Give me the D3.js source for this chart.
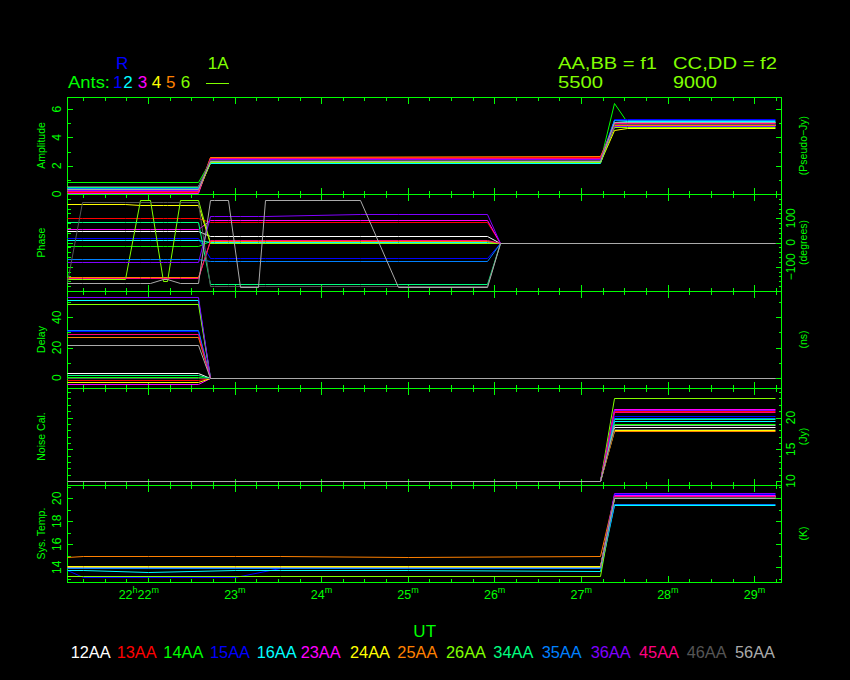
<!DOCTYPE html>
<html><head><meta charset="utf-8">
<script src="https://cdn.jsdelivr.net/npm/d3@7"></script>
<style>body{margin:0;background:#000}svg{display:block}text{font-family:"Liberation Sans",Arial,sans-serif}</style>
</head><body>
<svg id="c" width="850" height="680"></svg>
<script>
// ---------------- data ----------------
const baselines = ["12AA","13AA","14AA","15AA","16AA","23AA","24AA","25AA","26AA","34AA","35AA","36AA","45AA","46AA","56AA"];
const baseColors = ["#ffffff","#ff0000","#00ff00","#0000ff","#00ffff","#ff00ff","#ffff00","#ff8000","#80ff00","#00ff80","#0080ff","#8000ff","#ff0080","#555555","#aaaaaa"];
const antLabels = ["1","2","3","4","5","6"];
const antColors = ["#0000ff","#00ffff","#ff00ff","#ffff00","#ff8000","#80ff00"];
const xTickMinutes = [22,23,24,25,26,27,28,29];
const xTickLabels = ["22h22m","23m","24m","25m","26m","27m","28m","29m"];

// time knots (minutes after 22h)
const ampTimes = [21.07, 22.58, 22.72, 27.22, 27.38, 27.53, 29.24];
const ampValues = [
  [0.55,0.55,2.30,2.30,4.90,4.90,4.90],
  [0.15,0.15,2.60,2.62,5.00,5.00,5.00],
  [0.85,0.82,2.35,2.35,6.40,5.10,5.10],
  [0.30,0.30,2.40,2.40,5.27,5.27,5.27],
  [0.45,0.45,2.17,2.17,5.20,5.18,5.18],
  [0.08,0.08,2.45,2.45,4.95,4.95,4.95],
  [0.22,0.22,2.28,2.28,4.50,4.68,4.68],
  [0.35,0.35,2.62,2.66,4.85,4.85,4.85],
  [0.30,0.30,2.25,2.25,4.75,4.75,4.75],
  [0.50,0.50,2.30,2.30,5.05,5.05,5.05],
  [0.40,0.40,2.45,2.45,5.20,5.20,5.20],
  [0.25,0.25,2.50,2.50,4.80,4.80,4.80],
  [0.20,0.20,2.55,2.55,5.00,5.00,5.00],
  [0.60,0.60,2.40,2.40,4.95,4.95,4.95],
  [0.35,0.35,2.35,2.35,5.10,5.10,5.10]
];

const phaseTimes = [21.07,21.24,21.73,21.91,22.02,22.17,22.22,22.37,22.58,22.72,22.76,22.92,23.06,23.27,23.35,24.45,24.89,25.91,26.06,29.24];
const phaseValues = [
  [47,47,47,47,47,47,47,47,47,25,25,25,25,25,25,25,25,25,0,0],
  [100,100,100,100,100,99,99,99,99,85,85,85,85,85,85,85,85,85,0,0],
  [-13,-13,-13,-13,-13,-15,-15,-15,-15,5,5,5,5,5,5,5,5,5,0,0],
  [17,17,17,17,17,17,17,17,17,-64,-64,-64,-64,-64,-64,-64,-64,-64,0,0],
  [12,12,12,12,12,12,12,12,12,3,3,3,3,3,3,3,3,3,0,0],
  [54,54,54,54,54,54,54,54,54,93,93,93,93,93,93,93,93,93,0,0],
  [159,159,159,155,155,155,155,155,155,0,0,0,0,0,0,0,0,0,0,0],
  [-141,-141,-141,-141,-141,-141,-141,-141,-141,8,8,8,8,8,8,8,8,8,0,0],
  [-150,-150,-150,175,175,-160,-160,175,175,-3,-3,-3,-3,-3,-3,-3,-3,-3,0,0],
  [83,83,83,83,83,83,83,83,83,-170,-170,-170,-170,-170,-170,-170,-170,-170,0,0],
  [-68,-68,-68,-68,-68,-68,-68,-68,-68,-75,-75,-75,-75,-75,-75,-75,-75,-75,0,0],
  [-82,-82,-82,-82,-82,-82,-82,-82,-82,110,110,110,110,110,110,117,117,117,0,0],
  [-148,-148,-148,-148,-148,-148,-148,-148,-148,12,12,12,12,12,12,12,12,12,0,0],
  [-162,168,168,168,168,168,168,168,168,-178,-178,-178,-178,-178,-178,-178,-178,-178,0,0],
  [-166,-166,-166,-166,-166,-150,-150,-166,-166,175,175,175,-183,-183,175,175,-183,-183,0,0]
];

const delayTimes = [21.07, 22.58, 22.72, 29.24];
const delayValues = [
  [2.9,2.9,0,0],[-1.7,-1.7,0,0],[0.7,0.7,0,0],[30.8,30.8,0,0],[51.6,51.6,0,0],
  [-4.3,-4.3,0,0],[-3.0,-3.0,0,0],[27.1,27.1,0,0],[48.8,48.8,0,0],[2.0,2.0,0,0],
  [31.7,31.7,0,0],[53.6,53.6,0,0],[28.9,28.9,0,0],[-0.4,-0.4,0,0],[21.9,21.9,0,0]
];

const noiseTimes = [21.07, 27.22, 27.38, 29.24];
const noiseValues = [
  [10,10,18.5,18.5],[10,10,21.0,21.0],[10,10,19.0,19.0],[10,10,20.3,20.3],[10,10,19.4,19.4],
  [10,10,21.3,21.3],[10,10,18.0,18.0],[10,10,17.8,17.8],[10,10,23.0,23.0],[10,10,19.8,19.8],
  [10,10,20.0,20.0],[10,10,21.2,21.2],[10,10,20.8,20.8],[10,10,18.2,18.2],[10,10,18.8,18.8]
];

const sysTimes = [21.07, 21.25, 22.0, 23.0, 23.52, 25.0, 27.22, 27.38, 29.24];
const sysValues = [
  [14.0,14.0,14.0,14.0,14.0,14.0,14.0,20.2,20.2],
  [14.1,14.1,14.1,14.1,14.1,14.1,14.1,20.3,20.3],
  [13.9,13.9,13.9,13.9,13.9,13.9,13.9,20.1,20.1],
  [13.8,13.15,13.15,13.15,13.9,13.9,13.9,20.4,20.4],
  [13.8,13.8,13.6,13.8,13.8,13.8,13.7,19.4,19.4],
  [14.0,14.0,14.0,14.0,14.0,14.0,14.0,20.3,20.3],
  [14.1,14.1,14.1,14.1,14.1,14.1,14.1,20.0,20.0],
  [14.9,15.0,15.0,15.0,14.95,14.9,15.0,20.2,20.2],
  [13.2,13.2,13.2,13.2,13.2,13.2,13.2,20.1,20.1],
  [14.0,14.0,14.0,14.0,14.0,14.0,14.0,20.2,20.2],
  [13.9,13.9,13.9,13.9,13.9,13.9,13.9,19.5,19.5],
  [14.0,14.0,14.0,14.0,14.0,14.0,14.0,20.5,20.5],
  [14.0,14.0,14.0,14.0,14.0,14.0,14.0,20.2,20.2],
  [14.0,14.0,14.0,14.0,14.0,14.0,14.0,20.1,20.1],
  [14.0,14.0,14.0,14.0,14.0,14.0,14.0,20.0,20.0]
];

// ---------------- layout ----------------
const svg = d3.select("#c");
svg.append("rect").attr("width",850).attr("height",680).attr("fill","#000");
const X0 = 67, X1 = 781;
const x = d3.scaleLinear().domain([21.065, 29.31]).range([X0, X1]);
const AX = "#00ff00", YG = "#80ff00";

const panels = [
  {title:"Amplitude", unit:"(Pseudo\u2212Jy)", top:97, dom:[0,6.85], minor:1, major:2, labels:[0,2,4,6], side:"left", times:ampTimes, vals:ampValues},
  {title:"Phase", unit:"(degrees)", top:194, dom:[-200,200], minor:20, major:100, labels:[-100,0,100], side:"right", times:phaseTimes, vals:phaseValues},
  {title:"Delay", unit:"(ns)", top:291, dom:[-6.8,57.4], minor:10, major:20, labels:[0,20,40], side:"left", times:delayTimes, vals:delayValues},
  {title:"Noise Cal.", unit:"(Jy)", top:388, dom:[9.37,24.65], minor:1, major:5, labels:[10,15,20], side:"right", times:noiseTimes, vals:noiseValues},
  {title:"Sys. Temp.", unit:"(K)", top:485, dom:[12.72,21.16], minor:1, major:2, labels:[14,16,18,20], side:"left", times:sysTimes, vals:sysValues}
];
const H = 97;

panels.forEach(p => {
  const y = d3.scaleLinear().domain(p.dom).range([p.top+H, p.top]);
  const g = svg.append("g");
  const clip = "clip"+p.top;
  svg.append("clipPath").attr("id",clip).append("rect").attr("x",X0).attr("y",p.top).attr("width",X1-X0).attr("height",H+1);
  const dg = svg.append("g").attr("clip-path",`url(#${clip})`);
  p.vals.forEach((vs,i) => {
    const pts = vs.map((v,k)=>[p.times[k], v]);
    const line = d3.line().x(d=>Math.round(x(d[0]))+0.5).y(d=>Math.round(y(d[1]))+0.5);
    dg.append("path").attr("d", line(pts)).attr("fill","none").attr("stroke",baseColors[i]).attr("stroke-width",1);
  });
  // frame
  g.append("rect").attr("x",X0+0.5).attr("y",p.top+0.5).attr("width",X1-X0).attr("height",H)
    .attr("fill","none").attr("stroke",AX).attr("stroke-width",1).attr("shape-rendering","crispEdges");
  // y ticks
  const d0 = Math.ceil(p.dom[0]/p.minor)*p.minor;
  for (let v = d0; v <= p.dom[1]+1e-9; v += p.minor) {
    const isMaj = Math.abs(v/p.major - Math.round(v/p.major)) < 1e-6;
    const len = isMaj ? 6 : 3.5;
    const yy = Math.round(y(v))+0.5;
    g.append("line").attr("x1",X0).attr("x2",X0+len).attr("y1",yy).attr("y2",yy).attr("stroke",AX).attr("shape-rendering","crispEdges");
    g.append("line").attr("x1",X1+1).attr("x2",X1+1-len).attr("y1",yy).attr("y2",yy).attr("stroke",AX).attr("shape-rendering","crispEdges");
  }
  // x ticks
  for (let m = 21.25; m <= 29.31; m += 0.25) {
    const isMaj = Math.abs(m - Math.round(m)) < 1e-6;
    const len = isMaj ? 7 : 4;
    const xx = Math.round(x(m))+0.5;
    g.append("line").attr("x1",xx).attr("x2",xx).attr("y1",p.top).attr("y2",p.top+len).attr("stroke",AX).attr("shape-rendering","crispEdges");
    g.append("line").attr("x1",xx).attr("x2",xx).attr("y1",p.top+H+1).attr("y2",p.top+H+1-len).attr("stroke",AX).attr("shape-rendering","crispEdges");
  }
  // tick labels
  const lx = p.side==="left" ? 60.7 : 795;
  p.labels.forEach(v => {
    g.append("text").attr("transform",`translate(${lx},${y(v)}) rotate(-90)`).attr("text-anchor","middle")
      .attr("font-size",12).attr("fill",AX).text(v<0 ? "\u2212"+Math.abs(v) : v);
  });
  // titles
  const cy = p.top + H/2;
  g.append("text").attr("transform",`translate(44.5,${cy}) rotate(-90)`).attr("text-anchor","middle")
    .attr("font-size",10.5).attr("fill",AX).text(p.title);
  g.append("text").attr("transform",`translate(806.5,${cy}) rotate(-90)`).attr("text-anchor","middle")
    .attr("font-size",10.5).attr("fill",AX).text(p.unit);
});

// x tick labels
xTickMinutes.forEach((m,i) => {
  const lab = xTickLabels[i];
  const t = svg.append("text").attr("x", x(m)+11).attr("y",599).attr("text-anchor","end").attr("font-size",12.5).attr("fill",AX);
  if (lab.includes("h")) {
    const [hh, mm] = lab.replace("m","").split("h");
    t.append("tspan").text(hh);
    t.append("tspan").attr("font-size",9).attr("dy",-6).text("h");
    t.append("tspan").attr("dy",6).text(mm);
    t.append("tspan").attr("font-size",9).attr("dy",-6).text("m");
  } else {
    t.append("tspan").text(lab.replace("m",""));
    t.append("tspan").attr("font-size",9).attr("dy",-6).text("m");
  }
});

// UT
svg.append("text").attr("x",424.7).attr("y",637).attr("text-anchor","middle").attr("font-size",17).attr("fill",AX).text("UT");

// bottom legend
const legX = [70.7,116.7,163.3,210,256.7,300.7,350,397.3,446,493.3,541.7,590.7,639,686.7,735];
baselines.forEach((b,i) => {
  svg.append("text").attr("x",legX[i]).attr("y",657.7).attr("font-size",17).attr("fill",baseColors[i])
    .attr("textLength",40).attr("lengthAdjust","spacingAndGlyphs").text(b);
});

// header
svg.append("text").attr("x",116).attr("y",69).attr("font-size",17).attr("fill","#0000ff").text("R");
svg.append("text").attr("x",207.7).attr("y",69).attr("font-size",17).attr("fill",YG).text("1A");
svg.append("text").attr("x",68).attr("y",88.3).attr("font-size",17).attr("fill",AX)
  .attr("textLength",42).attr("lengthAdjust","spacingAndGlyphs").text("Ants:");
const antX = [113,123.3,137.7,151.7,166,180.7];
antLabels.forEach((a,i)=>{
  svg.append("text").attr("x",antX[i]).attr("y",88.3).attr("font-size",17).attr("fill",antColors[i]).text(a);
});
svg.append("line").attr("x1",205.7).attr("x2",228.7).attr("y1",83.5).attr("y2",83.5).attr("stroke",YG).attr("shape-rendering","crispEdges");
svg.append("text").attr("x",558).attr("y",69).attr("font-size",17).attr("fill",YG)
  .attr("textLength",99).attr("lengthAdjust","spacingAndGlyphs").text("AA,BB = f1");
svg.append("text").attr("x",673).attr("y",69).attr("font-size",17).attr("fill",YG)
  .attr("textLength",104).attr("lengthAdjust","spacingAndGlyphs").text("CC,DD = f2");
svg.append("text").attr("x",558).attr("y",88.3).attr("font-size",17).attr("fill",YG)
  .attr("textLength",45).attr("lengthAdjust","spacingAndGlyphs").text("5500");
svg.append("text").attr("x",673).attr("y",88.3).attr("font-size",17).attr("fill",YG)
  .attr("textLength",44).attr("lengthAdjust","spacingAndGlyphs").text("9000");
</script>
</body></html>
